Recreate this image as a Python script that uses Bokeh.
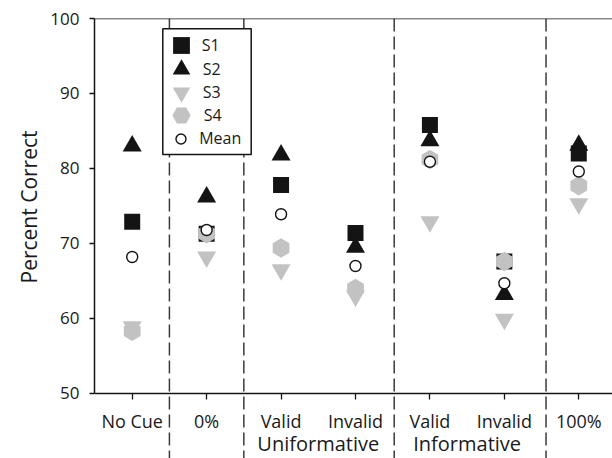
import math
from bokeh.plotting import figure
from bokeh.models import (Range1d, LinearAxis, FixedTicker, Span, BoxAnnotation,
                          Legend, LegendItem, ColumnDataSource, Title)
from bokeh.embed import file_html
from bokeh.resources import INLINE

# ---------------- data ----------------
categories = ["No Cue", "0%", "Valid", "Invalid", "Valid", "Invalid", "100%"]
s1 = [72.9, 71.3, 77.8, 71.4, 85.8, 67.6, 82.0]
s2 = [83.0, 76.2, 81.8, 69.5, 83.7, 63.2, 83.1]
s3 = [58.9, 68.2, 66.5, 63.0, 72.9, 59.9, 75.3]
s4 = [58.3, 71.3, 69.4, 64.0, 81.2, 67.6, 77.7]
mean = [68.2, 71.8, 73.9, 67.0, 80.9, 64.7, 79.6]
groups = ["Uniformative", "Informative"]
group_members = [[2, 3], [4, 5]]
dividers = [0.5, 1.5, 3.52, 5.56]
yticks = [50, 60, 70, 80, 90, 100]
y_label = "Percent Correct"

# ---------------- style / layout ----------------
FONT = "Open Sans"
BLACK = "#141414"
GRAY = "#c2c2c2"
TXT = "#1a1a1a"
DASH = "13 5"
DASH_COLOR = "#3a3a3a"

x_idx = list(range(len(categories)))
group_x = [sum(m) / len(m) for m in group_members]

# the plotting frame runs down to the page bottom so the dashed dividers and the
# two label rows can sit under the y=50 axis line
p = figure(width=612, height=458, output_backend="svg", toolbar_location=None,
           x_axis_type=None, y_axis_type=None,
           x_range=Range1d(-0.5065, 6.453), y_range=Range1d(41.333, yticks[-1]),
           min_border_left=94, min_border_right=0, min_border_top=18, min_border_bottom=0)
p.outline_line_color = None
p.background_fill_color = "white"
p.border_fill_color = "white"

# y axis (line only over 50-100)
yaxis = LinearAxis(ticker=FixedTicker(ticks=yticks), bounds=(yticks[0], yticks[-1]))
yaxis.axis_line_width = 1.5
yaxis.axis_line_color = BLACK
yaxis.major_tick_line_color = BLACK
yaxis.major_tick_line_width = 1.3
yaxis.major_tick_out = 5
yaxis.major_tick_in = 0
yaxis.minor_tick_line_color = None
yaxis.major_label_standoff = 10
yaxis.major_label_text_font = FONT
yaxis.major_label_text_font_size = "17px"
yaxis.major_label_text_color = TXT
p.add_layout(yaxis, "left")

# empty spacer axis between the tick labels and the y title
spacer = LinearAxis(ticker=FixedTicker(ticks=[]))
spacer.axis_line_color = None
spacer.major_tick_line_color = "white"
spacer.minor_tick_line_color = None
spacer.major_label_text_color = None
spacer.major_tick_out = 8
spacer.major_tick_in = 0
spacer.major_label_standoff = 0
p.add_layout(spacer, "left")

# y title, placed so it is centred on the 50-100 span
p.add_layout(Title(text=y_label, align="left", offset=175, standoff=10,
                   text_font=FONT, text_font_size="21px", text_font_style="normal",
                   text_color=TXT), "left")

# x axis with category labels, pinned at y=50
xaxis = LinearAxis(ticker=FixedTicker(ticks=x_idx),
                   major_label_overrides={i: c for i, c in zip(x_idx, categories)},
                   fixed_location=yticks[0])
xaxis.axis_line_width = 1.5
xaxis.axis_line_color = BLACK
xaxis.major_tick_line_color = BLACK
xaxis.major_tick_line_width = 1.3
xaxis.major_tick_out = 6
xaxis.major_tick_in = 0
xaxis.minor_tick_line_color = None
xaxis.major_label_standoff = 10
xaxis.major_label_text_font = FONT
xaxis.major_label_text_font_size = "18px"
xaxis.major_label_text_color = TXT
p.add_layout(xaxis, "below")

# second row: group labels
gaxis = LinearAxis(ticker=FixedTicker(ticks=group_x),
                   major_label_overrides={gx: g for gx, g in zip(group_x, groups)},
                   fixed_location=yticks[0])
gaxis.axis_line_color = None
gaxis.major_tick_line_color = None
gaxis.minor_tick_line_color = None
gaxis.major_tick_out = 0
gaxis.major_tick_in = 0
gaxis.major_label_standoff = 37
gaxis.major_label_text_font = FONT
gaxis.major_label_text_font_size = "20px"
gaxis.major_label_text_color = TXT
p.add_layout(gaxis, "below")

# top border line and dashed dividers
p.add_layout(Span(location=yticks[-1], dimension="width", line_color=BLACK, line_width=1.5))
for d in dividers:
    p.add_layout(Span(location=d, dimension="height", line_color=DASH_COLOR,
                      line_width=1.5, line_dash=DASH, level="underlay"))

# data
src = ColumnDataSource(dict(x=x_idx, s1=s1, s2=s2, s3=s3, s4=s4, mean=mean))
r1 = p.scatter("x", "s1", source=src, marker="square", size=16,
               fill_color=BLACK, line_color=None)
r2 = p.scatter("x", "s2", source=src, marker="triangle", size=19,
               fill_color=BLACK, line_color=None)
r3 = p.scatter("x", "s3", source=src, marker="inverted_triangle", size=19,
               fill_color=GRAY, line_color=None)
r4 = p.scatter("x", "s4", source=src, marker="hex", size=19.3, angle=math.pi / 2,
               fill_color=GRAY, line_color=None)
r5 = p.scatter("x", "mean", source=src, marker="circle", size=11,
               fill_color="white", line_color=BLACK, line_width=1.4)

# legend box
p.add_layout(BoxAnnotation(left=0.411, right=1.599, top=98.63, bottom=81.87,
                           fill_color="white", fill_alpha=1.0,
                           line_color=BLACK, line_width=1.5, line_alpha=1.0))

# one legend per entry so each symbol gets its own size
legend_specs = [
    ("S1", r1, 42, -3, (65.7, 391.7)),
    ("S2", r2, 44, -4, (64.7, 367.4)),
    ("S3", r3, 44, -4, (64.7, 344.0)),
    ("S4", r4, 46, -5, (63.7, 319.7)),
    ("Mean", r5, 25, 6, (74.2, 307.5)),
]
for label, rend, glyph, standoff, loc in legend_specs:
    lg = Legend(items=[LegendItem(label=label, renderers=[rend])], location=loc,
                orientation="vertical", glyph_width=glyph, glyph_height=glyph,
                label_height=glyph, spacing=0, padding=0, margin=0,
                label_standoff=standoff, border_line_color=None,
                background_fill_alpha=0.0, label_text_font=FONT,
                label_text_font_size="16px", label_text_color=TXT)
    p.add_layout(lg)

open("out.html", "w").write(file_html(p, INLINE))
